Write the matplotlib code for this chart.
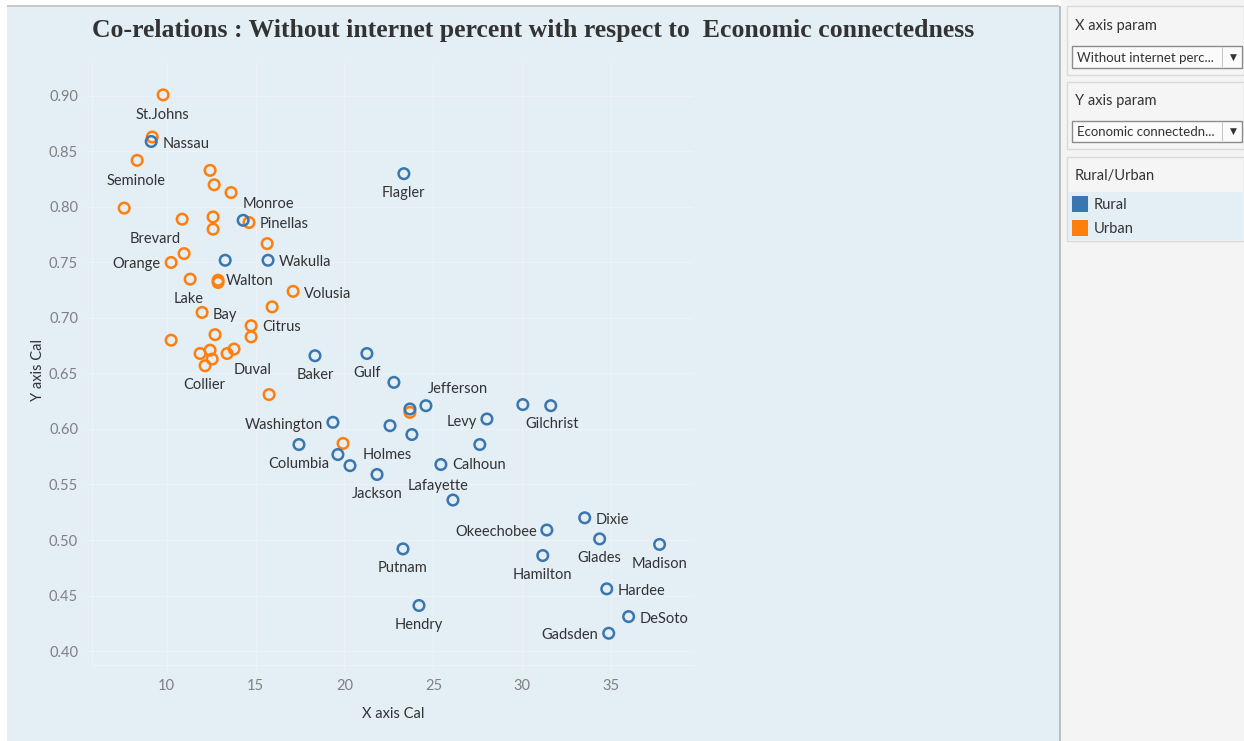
"""
Scatter of county economic connectedness vs. share of households without internet,
split by Rural / Urban, laid out like the Tableau dashboard it came from.
"""
import matplotlib
matplotlib.use("Agg")
import matplotlib.pyplot as plt
from matplotlib.patches import Rectangle
from matplotlib.ticker import FormatStrFormatter

# --- data -------------------------------------------------------------------
urban_x = [9.80, 9.19, 8.34, 7.61, 12.44, 12.67, 13.62, 10.87, 12.61, 12.61,
           14.63, 15.65, 10.98, 10.25, 11.32, 12.89, 12.89, 17.11, 15.93, 11.99,
           14.75, 14.75, 12.72, 10.25, 11.88, 12.44, 12.56, 12.16, 13.40, 13.79,
           15.76, 19.92, 23.68]
urban_y = [0.901, 0.863, 0.842, 0.799, 0.833, 0.820, 0.813, 0.789, 0.791, 0.780,
           0.786, 0.767, 0.758, 0.750, 0.735, 0.734, 0.732, 0.724, 0.710, 0.705,
           0.693, 0.683, 0.685, 0.680, 0.668, 0.671, 0.663, 0.657, 0.668, 0.672,
           0.631, 0.587, 0.615]
urban_names = ["St.Johns", "", "Seminole", "", "", "", "", "Brevard", "", "",
               "Pinellas", "", "", "Orange", "Lake", "Walton", "", "Volusia", "", "Bay",
               "Citrus", "", "", "", "", "", "", "Collier", "", "Duval",
               "", "", ""]

rural_x = [9.13, 14.30, 15.70, 13.29, 23.34, 18.34, 21.26, 22.78, 23.68, 24.58,
           19.35, 22.56, 23.79, 17.44, 19.63, 20.31, 21.83, 28.01, 27.61, 25.42,
           26.10, 30.03, 31.60, 33.51, 31.38, 34.35, 37.72, 31.15, 34.75, 35.98,
           34.86, 23.29, 24.19]
rural_y = [0.859, 0.788, 0.752, 0.752, 0.830, 0.666, 0.668, 0.642, 0.618, 0.621,
           0.606, 0.603, 0.595, 0.586, 0.577, 0.567, 0.559, 0.609, 0.586, 0.568,
           0.536, 0.622, 0.621, 0.520, 0.509, 0.501, 0.496, 0.486, 0.456, 0.431,
           0.416, 0.492, 0.441]
rural_names = ["Nassau", "Monroe", "Wakulla", "", "Flagler", "Baker", "Gulf", "", "", "Jefferson",
               "Washington", "", "Holmes", "Columbia", "", "", "Jackson", "Levy", "", "Calhoun",
               "Lafayette", "", "Gilchrist", "Dixie", "Okeechobee", "Glades", "Madison", "Hamilton", "Hardee", "DeSoto",
               "Gadsden", "Putnam", "Hendry"]

x_ticks = [10, 15, 20, 25, 30, 35]
y_ticks = [0.40, 0.45, 0.50, 0.55, 0.60, 0.65, 0.70, 0.75, 0.80, 0.85, 0.90]
legend_items = ["Rural", "Urban"]

# label placement: offset from the mark in screen pixels (y down) + alignment
BELOW = (0, 18, "center")
label_pos = {
    "St.Johns": (-1, 19, "center"), "Seminole": (-1, 19, "center"),
    "Brevard": (-27, 18, "center"), "Pinellas": (11, 0, "left"),
    "Orange": (-11, 0, "right"), "Lake": (-2, 18, "center"),
    "Walton": (8, -1, "left"), "Volusia": (11, 1, "left"),
    "Bay": (11, 1, "left"), "Citrus": (11, 0, "left"),
    "Collier": (-1, 18, "center"), "Duval": (18, 19, "center"),
    "Nassau": (11, 1, "left"), "Monroe": (25, -18, "center"),
    "Wakulla": (11, 0, "left"), "Flagler": (-1, 18, "center"),
    "Jefferson": (32, -18, "center"), "Washington": (-10, 1, "right"),
    "Holmes": (-25, 19, "center"), "Levy": (-10, 1, "right"),
    "Calhoun": (11, -1, "left"), "Lafayette": (-15, -16, "center"),
    "Dixie": (11, 1, "left"), "Okeechobee": (-10, 0, "right"),
    "Hardee": (11, 1, "left"), "DeSoto": (11, 1, "left"),
    "Gadsden": (-11, 0, "right"), "Gilchrist": (1, 17, "center"),
}
LABEL_SHIFT = 1.5  # Lato sits a little high when va="center"

BLUE = "#3a76af"
ORANGE = "#ff7f0e"
BG = "#e3eef5"
TXT = "#333333"

W, H = 1244, 741


def box(fig, x0, y0, x1, y1, **kw):
    """Rectangle in reference pixel coords (y down)."""
    r = Rectangle((x0 / W, 1 - y1 / H), (x1 - x0) / W, (y1 - y0) / H,
                  transform=fig.transFigure, **kw)
    fig.add_artist(r)
    return r


def ftext(fig, x, y, s, **kw):
    fig.text(x / W, 1 - y / H, s, **kw)


fig = plt.figure(figsize=(W / 100, H / 100), dpi=100)
fig.patch.set_facecolor("white")

# chart panel + right-hand control panel
box(fig, 7, 6, 1059, 741, facecolor=BG, edgecolor="none", zorder=0)
box(fig, 7, 5, 1059, 6.5, facecolor="#c8c8c8", edgecolor="none", zorder=0)
box(fig, 1058.5, 6, 1060.5, 741, facecolor="#bdbdbd", edgecolor="none", zorder=0)
box(fig, 1061, 0, 1244, 741, facecolor="#f4f4f4", edgecolor="none", zorder=0)

ax = fig.add_axes([92 / W, 1 - 665 / H, (693 - 92) / W, (665 - 62) / H])
ax.set_facecolor(BG)
ax.set_xlim(5.8, 39.6)
ax.set_ylim(0.3874, 0.9306)
ax.set_xticks(x_ticks)
ax.set_yticks(y_ticks)
ax.yaxis.set_major_formatter(FormatStrFormatter("%.2f"))
ax.grid(True, color="#ecf2f7", linewidth=0.9)
ax.set_axisbelow(True)
for side in ("top", "right"):
    ax.spines[side].set_visible(False)
for side in ("left", "bottom"):
    ax.spines[side].set_color("#eef3f7")
    ax.spines[side].set_linewidth(1.0)
ax.tick_params(colors="#eef3f7", labelcolor="#808080", labelsize=10.5, length=4, pad=6)
for lbl in ax.get_xticklabels() + ax.get_yticklabels():
    lbl.set_family("Lato")

ax.scatter(urban_x, urban_y, s=58, facecolors="none", edgecolors=ORANGE, linewidths=1.8, zorder=3)
ax.scatter(rural_x, rural_y, s=58, facecolors="none", edgecolors=BLUE, linewidths=1.8, zorder=4)

for xs, ys, names in ((urban_x, urban_y, urban_names), (rural_x, rural_y, rural_names)):
    for x, y, name in zip(xs, ys, names):
        if not name:
            continue
        dx, dy, ha = label_pos.get(name, BELOW)
        ax.annotate(name, (x, y), xytext=(dx, -(dy + LABEL_SHIFT)), textcoords="offset pixels",
                    ha=ha, va="center", fontsize=10.5, color=TXT, family="Lato", zorder=5)

ftext(fig, 533, 31, "Co-relations : Without internet percent with respect to  Economic connectedness",
      ha="center", va="center", fontsize=18.5, fontweight="bold", color=TXT, family="Liberation Serif")
ftext(fig, 393, 714, "X axis Cal", ha="center", va="center", fontsize=10.5, color=TXT, family="Lato")
ftext(fig, 38, 370, "Y axis Cal", ha="center", va="center", rotation=90, fontsize=10.5,
      color=TXT, family="Lato")

# --- control panel -----------------------------------------------------------
for (y0, y1) in ((6, 75), (82, 149), (157, 241)):
    box(fig, 1067, y0, 1244, y1, facecolor="#f5f5f5", edgecolor="#dadada", linewidth=1.0, zorder=1)

ftext(fig, 1075, 26, "X axis param", va="center", fontsize=10.5, color=TXT, family="Lato")
ftext(fig, 1075, 101, "Y axis param", va="center", fontsize=10.5, color=TXT, family="Lato")
for (y0, y1, label) in ((46, 68, "Without internet perc..."), (121, 142, "Economic connectedn...")):
    box(fig, 1072, y0, 1242, y1, facecolor="#fbfbfb", edgecolor="#8c8c8c", linewidth=1.0, zorder=2)
    box(fig, 1222, y0 + 1, 1222.8, y1 - 1, facecolor="#c8c8c8", edgecolor="none", zorder=3)
    ftext(fig, 1077, (y0 + y1) / 2 + 1, label, va="center", fontsize=9.5, color=TXT, family="Lato", zorder=4)
    ftext(fig, 1233, (y0 + y1) / 2, "\u25bc", ha="center", va="center", fontsize=6.5, color="#333333",
          family="DejaVu Sans", zorder=4)

ftext(fig, 1075, 176, "Rural/Urban", va="center", fontsize=10.5, color=TXT, family="Lato")
box(fig, 1068, 192, 1243, 240, facecolor=BG, edgecolor="none", zorder=2)
for i, (name, col) in enumerate(zip(legend_items, [BLUE, ORANGE])):
    yc = 204 + 24 * i
    box(fig, 1072, yc - 8, 1088, yc + 8, facecolor=col, edgecolor="none", zorder=3)
    ftext(fig, 1094, yc + 1, name, va="center", fontsize=10.5, color=TXT, family="Lato", zorder=4)

fig.savefig("out.png", dpi=100, facecolor=fig.get_facecolor())
